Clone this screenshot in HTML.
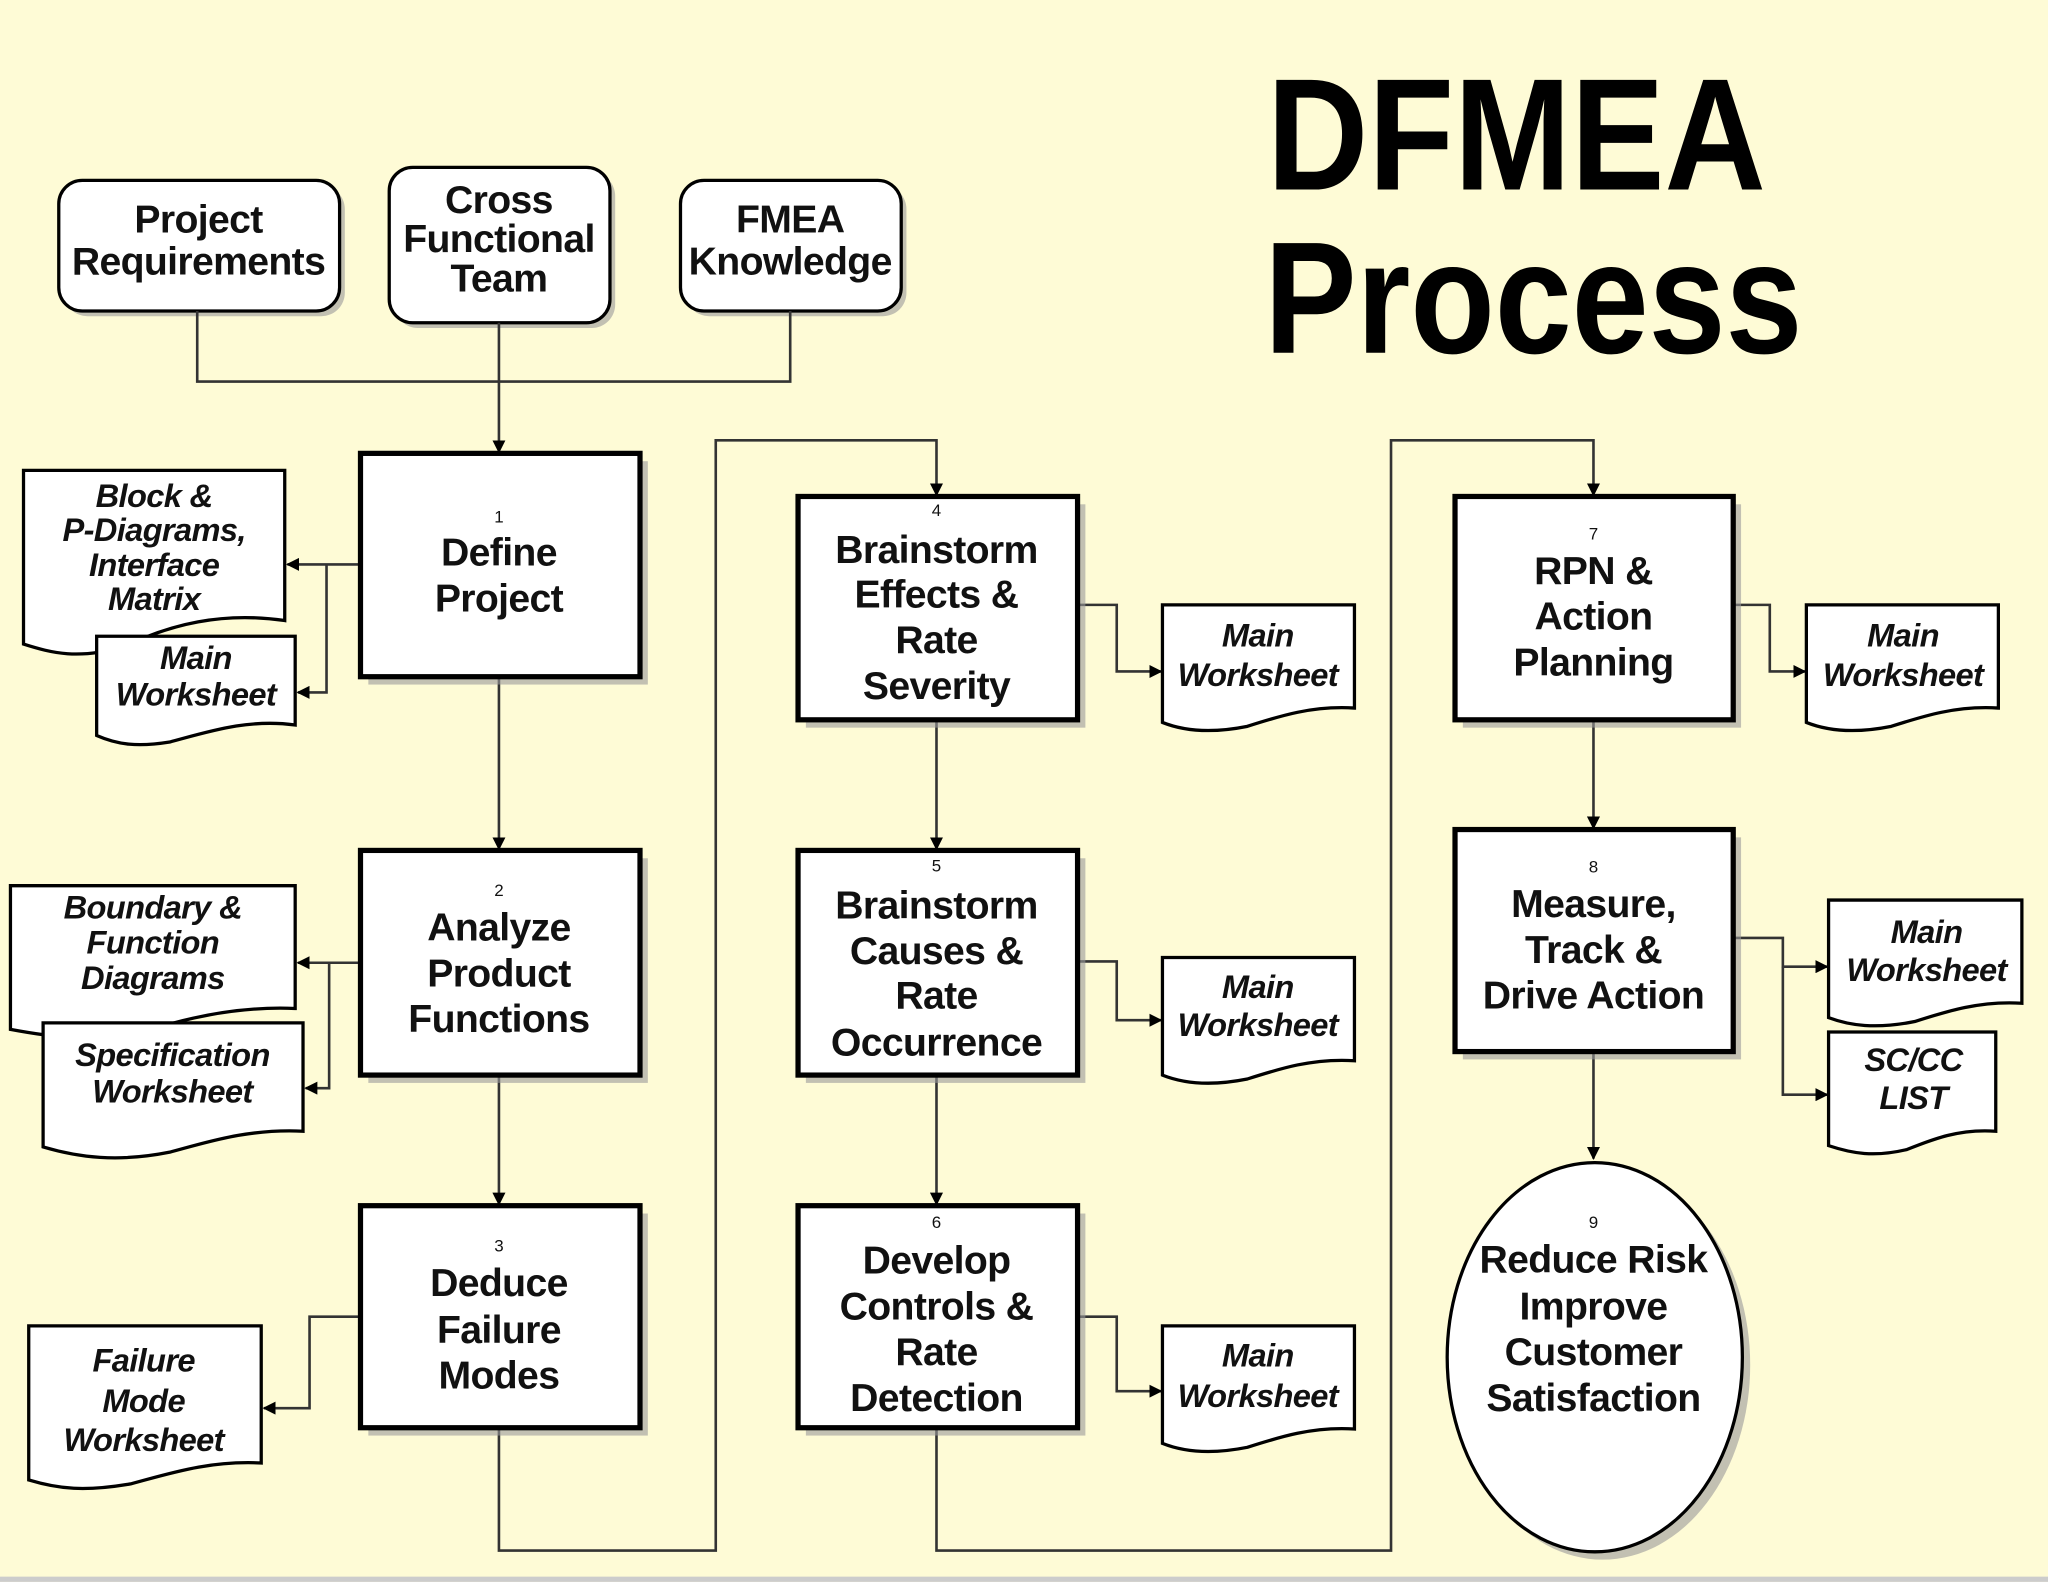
<!DOCTYPE html>
<html><head><meta charset="utf-8"><style>
html,body{margin:0;padding:0;background:#fefbd6;}
svg{display:block}
.b{font-family:"Liberation Sans",sans-serif;font-weight:bold;font-size:30px;text-anchor:middle;fill:#111;letter-spacing:-0.5px}
.n{font-family:"Liberation Sans",sans-serif;font-size:13px;text-anchor:middle;fill:#111}
.d{font-family:"Liberation Sans",sans-serif;font-weight:bold;font-style:italic;font-size:25px;text-anchor:middle;fill:#111;letter-spacing:-0.5px}
.t{font-family:"Liberation Sans",sans-serif;font-weight:bold;fill:#000}
.box{fill:#fff;stroke:#000;stroke-width:4}
.sh{fill:#999;opacity:.6}
.doc{fill:#fff;stroke:#000;stroke-width:2.5}
.ln{fill:none;stroke:#333;stroke-width:2}
</style></head><body>
<svg width="2048" height="1582" viewBox="0 0 1568 1211" xmlns="http://www.w3.org/2000/svg">
<defs>
<marker id="a" markerWidth="10" markerHeight="10" refX="9" refY="5" orient="auto" markerUnits="userSpaceOnUse"><path d="M0,0 L10,5 L0,10 Z" fill="#000"/></marker>
</defs>
<rect width="1568" height="1211" fill="#fefbd6"/>
<rect y="1207" width="1568" height="4" fill="#ccc"/>

<text class="t" x="970" y="145" font-size="122" textLength="382" lengthAdjust="spacingAndGlyphs">DFMEA</text>
<text class="t" x="968" y="270" font-size="122" textLength="412" lengthAdjust="spacingAndGlyphs">Process</text>

<!-- top rounded boxes -->
<rect x="49" y="142" width="215" height="100" rx="18" class="sh"/>
<rect x="45" y="138" width="215" height="100" rx="18" fill="#fff" stroke="#000" stroke-width="2.5"/>
<rect x="302" y="132" width="169" height="119" rx="18" class="sh"/>
<rect x="298" y="128" width="169" height="119" rx="18" fill="#fff" stroke="#000" stroke-width="2.5"/>
<rect x="525" y="142" width="169" height="100" rx="18" class="sh"/>
<rect x="521" y="138" width="169" height="100" rx="18" fill="#fff" stroke="#000" stroke-width="2.5"/>
<text class="b" x="152" y="178">Project</text><text class="b" x="152" y="210">Requirements</text>
<text class="b" x="382" y="163">Cross</text><text class="b" x="382" y="193">Functional</text><text class="b" x="382" y="223">Team</text>
<text class="b" x="605" y="178">FMEA</text><text class="b" x="605" y="210">Knowledge</text>

<path class="ln" d="M151,238 V292 H605 V238"/>
<path class="ln" d="M382,247 V346" marker-end="url(#a)"/>

<!-- connectors main flow -->
<path class="ln" d="M382,518 V650" marker-end="url(#a)"/>
<path class="ln" d="M382,823 V922" marker-end="url(#a)"/>
<path class="ln" d="M382,1093 V1187 H548 V337 H717 V379" marker-end="url(#a)"/>
<path class="ln" d="M717,551 V650" marker-end="url(#a)"/>
<path class="ln" d="M717,823 V922" marker-end="url(#a)"/>
<path class="ln" d="M717,1093 V1187 H1065 V337 H1220 V379" marker-end="url(#a)"/>
<path class="ln" d="M1220,551 V634" marker-end="url(#a)"/>
<path class="ln" d="M1220,805 V887" marker-end="url(#a)"/>

<!-- side connectors -->
<path class="ln" d="M276,432 H220" marker-end="url(#a)"/>
<path class="ln" d="M250,432 V530 H228" marker-end="url(#a)"/>
<path class="ln" d="M276,737 H228" marker-end="url(#a)"/>
<path class="ln" d="M252,737 V833 H234" marker-end="url(#a)"/>
<path class="ln" d="M276,1008 H237 V1078 H202" marker-end="url(#a)"/>
<path class="ln" d="M825,463 H855 V514 H889" marker-end="url(#a)"/>
<path class="ln" d="M825,736 H855 V781 H889" marker-end="url(#a)"/>
<path class="ln" d="M825,1008 H855 V1065 H889" marker-end="url(#a)"/>
<path class="ln" d="M1327,463 H1355 V514 H1382" marker-end="url(#a)"/>
<path class="ln" d="M1327,718 H1365 V740 H1399" marker-end="url(#a)"/>
<path class="ln" d="M1365,740 V838 H1399" marker-end="url(#a)"/>

<!-- main boxes -->
<g>
<rect x="282" y="353" width="214" height="171" class="sh"/><rect x="276" y="347" width="214" height="171" class="box"/>
<rect x="282" y="657" width="214" height="172" class="sh"/><rect x="276" y="651" width="214" height="172" class="box"/>
<rect x="282" y="929" width="214" height="170" class="sh"/><rect x="276" y="923" width="214" height="170" class="box"/>
<rect x="617" y="386" width="214" height="171" class="sh"/><rect x="611" y="380" width="214" height="171" class="box"/>
<rect x="617" y="657" width="214" height="172" class="sh"/><rect x="611" y="651" width="214" height="172" class="box"/>
<rect x="617" y="929" width="214" height="170" class="sh"/><rect x="611" y="923" width="214" height="170" class="box"/>
<rect x="1120" y="386" width="213" height="171" class="sh"/><rect x="1114" y="380" width="213" height="171" class="box"/>
<rect x="1120" y="641" width="213" height="170" class="sh"/><rect x="1114" y="635" width="213" height="170" class="box"/>
<ellipse cx="1227" cy="1045" rx="113" ry="149" class="sh"/>
<ellipse cx="1221" cy="1039" rx="113" ry="149" fill="#fff" stroke="#000" stroke-width="2.5"/>
</g>

<text class="n" x="382" y="400">1</text><text class="b" x="382" y="433">Define</text><text class="b" x="382" y="468">Project</text>
<text class="n" x="382" y="686">2</text><text class="b" x="382" y="720">Analyze</text><text class="b" x="382" y="755">Product</text><text class="b" x="382" y="790">Functions</text>
<text class="n" x="382" y="958">3</text><text class="b" x="382" y="992">Deduce</text><text class="b" x="382" y="1028">Failure</text><text class="b" x="382" y="1063">Modes</text>
<text class="n" x="717" y="395">4</text><text class="b" x="717" y="431">Brainstorm</text><text class="b" x="717" y="465">Effects &amp;</text><text class="b" x="717" y="500">Rate</text><text class="b" x="717" y="535">Severity</text>
<text class="n" x="717" y="667">5</text><text class="b" x="717" y="703">Brainstorm</text><text class="b" x="717" y="738">Causes &amp;</text><text class="b" x="717" y="772">Rate</text><text class="b" x="717" y="808">Occurrence</text>
<text class="n" x="717" y="940">6</text><text class="b" x="717" y="975">Develop</text><text class="b" x="717" y="1010">Controls &amp;</text><text class="b" x="717" y="1045">Rate</text><text class="b" x="717" y="1080">Detection</text>
<text class="n" x="1220" y="413">7</text><text class="b" x="1220" y="447">RPN &amp;</text><text class="b" x="1220" y="482">Action</text><text class="b" x="1220" y="517">Planning</text>
<text class="n" x="1220" y="668">8</text><text class="b" x="1220" y="702">Measure,</text><text class="b" x="1220" y="737">Track &amp;</text><text class="b" x="1220" y="772">Drive Action</text>
<text class="n" x="1220" y="940">9</text><text class="b" x="1220" y="974">Reduce Risk</text><text class="b" x="1220" y="1010">Improve</text><text class="b" x="1220" y="1045">Customer</text><text class="b" x="1220" y="1080">Satisfaction</text>

<!-- documents -->
<path class="doc" d="M18,360 H218 V475 C170,468 130,478 95,495 C60,505 40,500 18,493 Z"/>
<path class="doc" d="M74,487 H226 V555 C190,550 160,560 130,568 C105,572 90,570 74,563 Z"/>
<text class="d" x="118" y="388">Block &amp;</text><text class="d" x="118" y="414">P-Diagrams,</text><text class="d" x="118" y="441">Interface</text><text class="d" x="118" y="467">Matrix</text>
<text class="d" x="150" y="512">Main</text><text class="d" x="150" y="540">Worksheet</text>

<path class="doc" d="M8,678 H226 V772 C180,770 140,780 110,790 C70,798 40,794 8,788 Z"/>
<path class="doc" d="M33,783 H232 V866 C190,864 160,874 130,882 C90,890 60,886 33,878 Z"/>
<text class="d" x="117" y="703">Boundary &amp;</text><text class="d" x="117" y="730">Function</text><text class="d" x="117" y="757">Diagrams</text>
<text class="d" x="132" y="816">Specification</text><text class="d" x="132" y="844">Worksheet</text>

<path class="doc" d="M22,1015 H200 V1120 C160,1118 130,1128 100,1136 C65,1142 45,1140 22,1133 Z"/>
<text class="d" x="110" y="1050">Failure</text><text class="d" x="110" y="1081">Mode</text><text class="d" x="110" y="1111">Worksheet</text>

<path class="doc" d="M890,463 H1037 V542 C1005,540 980,548 955,556 C925,562 905,559 890,553 Z"/>
<text class="d" x="963" y="495">Main</text><text class="d" x="963" y="525">Worksheet</text>
<path class="doc" d="M890,733 H1037 V812 C1005,810 980,818 955,826 C925,832 905,829 890,823 Z"/>
<text class="d" x="963" y="764">Main</text><text class="d" x="963" y="793">Worksheet</text>
<path class="doc" d="M890,1015 H1037 V1094 C1005,1092 980,1100 955,1108 C925,1114 905,1111 890,1105 Z"/>
<text class="d" x="963" y="1046">Main</text><text class="d" x="963" y="1077">Worksheet</text>
<path class="doc" d="M1383,463 H1530 V542 C1498,540 1473,548 1448,556 C1418,562 1398,559 1383,553 Z"/>
<text class="d" x="1457" y="495">Main</text><text class="d" x="1457" y="525">Worksheet</text>
<path class="doc" d="M1400,689 H1548 V768 C1516,766 1491,774 1466,782 C1436,788 1416,785 1400,779 Z"/>
<text class="d" x="1475" y="722">Main</text><text class="d" x="1475" y="751">Worksheet</text>
<path class="doc" d="M1400,790 H1528 V866 C1500,864 1480,872 1460,880 C1435,886 1418,883 1400,877 Z"/>
<text class="d" x="1465" y="820">SC/CC</text><text class="d" x="1465" y="849">LIST</text>
</svg>
</body></html>
